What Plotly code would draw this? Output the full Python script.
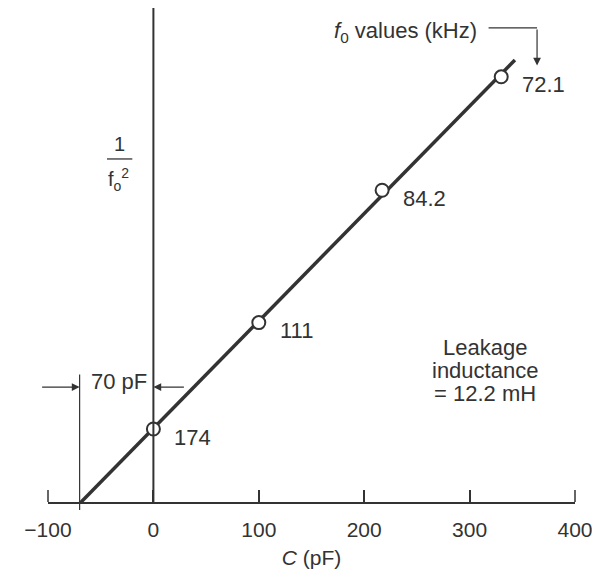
import numpy as np
import plotly.graph_objects as go

# Measured resonance: added capacitance (pF) vs resonant frequency f0 (kHz)
cap_pf = [0, 100, 217, 330]
f0_khz = [174, 111, 84.2, 72.1]
f0_labels = ["174", "111", "84.2", "72.1"]

# Extent of the fitted straight line along C
line_c = [-70, 343]

x_ticks = [-100, 0, 100, 200, 300, 400]

inv_f2 = 1.0 / np.square(np.array(f0_khz, dtype=float))   # 1/f0^2  (kHz^-2)
slope, icpt = np.polyfit(cap_pf, inv_f2, 1)
line_y = [slope * c + icpt for c in line_c]

INK = "#333333"
FONT = "Liberation Sans, Arial, Helvetica, sans-serif"
FS = 22
TICK_FS = 21
Y_TOP = 22.35e-5
X_MIN, X_MAX = -100, 400
TICK_LEN = 12
PLOT_H = 572 - 8 - 70

fig = go.Figure()

fig.add_trace(go.Scatter(
    x=line_c, y=line_y, mode="lines",
    line=dict(color=INK, width=3.5), hoverinfo="skip", showlegend=False,
))
fig.add_trace(go.Scatter(
    x=cap_pf, y=inv_f2, mode="markers",
    marker=dict(symbol="circle", size=13, color="white",
                line=dict(color=INK, width=2)),
    cliponaxis=False, showlegend=False,
))


def txt(x, y, text, size=FS, **kw):
    return dict(x=x, y=y, xref="x", yref="y", text=text, showarrow=False,
                font=dict(family=FONT, size=size, color=INK), **kw)


annotations = []
# f0 labels next to each measured point
for c, v, lab in zip(cap_pf, inv_f2, f0_labels):
    annotations.append(txt(c, v, lab, xanchor="left", yanchor="middle",
                           xshift=19, yshift=-8))

# "f0 values (kHz)" call-out with bent arrow
annotations.append(txt(239, 21.27e-5, "<i>f</i><sub>0</sub> values (kHz)"))
annotations.append(dict(
    x=364, y=19.75e-5, xref="x", yref="y", ax=364, ay=21.45e-5,
    axref="x", ayref="y", text="", showarrow=True,
    arrowhead=2, arrowsize=1.3, arrowwidth=1.2, arrowcolor=INK,
))

# 1/f0^2 axis caption
annotations.append(txt(-32, 16.2e-5, "1", size=20))
annotations.append(txt(-33, 14.6e-5, "f<sub>o</sub><sup>2</sup>", size=20))

# 70 pF dimension arrows
dim_y = 5.2e-5
annotations.append(dict(
    x=line_c[0], y=dim_y, xref="x", yref="y", ax=-39, ay=0,
    text="", showarrow=True, arrowhead=2, arrowsize=1.3,
    arrowwidth=1.2, arrowcolor=INK,
))
annotations.append(dict(
    x=0, y=dim_y, xref="x", yref="y", ax=32, ay=0,
    text="", showarrow=True, arrowhead=2, arrowsize=1.3,
    arrowwidth=1.2, arrowcolor=INK,
))
annotations.append(txt(-33, 5.45e-5, "70 pF"))

# Result note, one line per annotation for tight leading
for yv, line in zip([7.0e-5, 5.97e-5, 4.93e-5],
                    ["Leakage", "inductance", "= 12.2 mH"]):
    annotations.append(txt(315, yv, line))

shapes = [
    # vertical C = 0 axis
    dict(type="line", xref="x", yref="y", x0=0, x1=0, y0=0, y1=Y_TOP,
         line=dict(color=INK, width=2)),
    # fraction bar of 1/f0^2
    dict(type="line", xref="x", yref="y", x0=-44, x1=-20,
         y0=15.52e-5, y1=15.52e-5, line=dict(color=INK, width=1.3)),
    # horizontal leg of the f0 call-out arrow
    dict(type="line", xref="x", yref="y", x0=318, x1=364,
         y0=21.45e-5, y1=21.45e-5, line=dict(color=INK, width=1.2)),
    # extension line at the C-intercept
    dict(type="line", xref="x domain", yref="paper",
         x0=(line_c[0] - X_MIN) / (X_MAX - X_MIN),
         x1=(line_c[0] - X_MIN) / (X_MAX - X_MIN),
         y0=-0.016, y1=0.258, line=dict(color=INK, width=1.2)),
]
# end ticks of the C axis
for d in (0, 1):
    shapes.append(dict(type="line", xref="x domain", yref="paper",
                       x0=d, x1=d, y0=0, y1=TICK_LEN / PLOT_H,
                       line=dict(color=INK, width=1.5)))

fig.update_layout(
    width=592, height=572,
    margin=dict(l=48, r=17, t=8, b=70, autoexpand=False),
    paper_bgcolor="white", plot_bgcolor="white",
    font=dict(family=FONT, size=FS, color=INK),
    annotations=annotations, shapes=shapes,
    xaxis=dict(
        range=[X_MIN, X_MAX], tickvals=x_ticks, automargin=False,
        ticks="inside", ticklen=TICK_LEN, tickwidth=1.5, tickcolor=INK,
        showline=True, linecolor=INK, linewidth=2,
        showgrid=False, zeroline=False,
        ticklabelstandoff=8, ticklabeloverflow="allow",
        tickfont=dict(family=FONT, size=TICK_FS, color=INK),
        title=dict(text="<i>C</i> (pF)", standoff=10,
                   font=dict(family=FONT, size=TICK_FS, color=INK)),
    ),
    yaxis=dict(
        range=[0, Y_TOP], showticklabels=False, ticks="",
        showline=False, showgrid=False, zeroline=False, automargin=False,
    ),
)

fig.write_html("out.html")
